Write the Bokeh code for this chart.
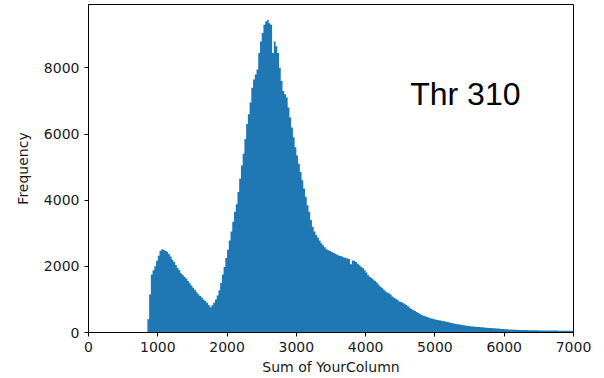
from bokeh.plotting import figure
from bokeh.models import Range1d, Label, FixedTicker
from bokeh.embed import file_html
from bokeh.resources import INLINE

# ---- data ----
bin_start = 850
bin_width = 25
counts = [
    400, 1150, 1750, 1880, 2000, 2170, 2320, 2470, 2520, 2500,
    2470, 2440, 2370, 2300, 2200, 2130, 2040, 1950, 1880, 1790,
    1740, 1680, 1630, 1560, 1490, 1420, 1350, 1290, 1220, 1160,
    1100, 1060, 1000, 950, 900, 830, 760, 820, 900, 1000,
    1120, 1280, 1500, 1750, 1980, 2250, 2500, 2780, 3050, 3350,
    3650, 3880, 4250, 4650, 5050, 5400, 5850, 6300, 6600, 6950,
    7400, 7650, 7800, 7950, 8450, 8800, 9050, 9300, 9400, 9450,
    9350, 9300, 8450, 8800, 8650, 8450, 8000, 7600, 7300, 7200,
    7100, 6800, 6500, 6200, 5900, 5600, 5350, 5100, 4850, 4600,
    4350, 4100, 3850, 3650, 3400, 3200, 3050, 2950, 2870, 2780,
    2700, 2640, 2580, 2520, 2490, 2460, 2430, 2410, 2380, 2360,
    2330, 2310, 2300, 2270, 2260, 2240, 2220, 2060, 2180, 2170,
    2130, 2080, 2030, 1990, 1950, 1880, 1810, 1730, 1680, 1650,
    1600, 1560, 1510, 1450, 1390, 1350, 1300, 1250, 1210, 1190,
    1150, 1090, 1050, 1020, 980, 940, 920, 900, 870, 830,
    790, 750, 710, 680, 650, 620, 590, 560, 530, 510,
    490, 470, 450, 430, 420, 400, 390, 375, 370, 360,
    350, 340, 325, 315, 305, 290, 280, 265, 255, 245,
    240, 230, 222, 215, 205, 198, 192, 185, 180, 175,
    170, 165, 160, 155, 150, 146, 142, 138, 135, 132,
    128, 122, 118, 112, 108, 104, 100, 96, 93, 90,
    88, 85, 82, 80, 78, 76, 75, 74, 73, 72,
    70, 69, 68, 67, 66, 65, 64, 63, 62, 62,
    61, 60, 60, 59, 58, 58, 57, 56, 56, 55,
    54, 53, 53, 52, 51, 50,
]
x_ticks = [0, 1000, 2000, 3000, 4000, 5000, 6000, 7000]
y_ticks = [0, 2000, 4000, 6000, 8000]
x_label = "Sum of YourColumn"
y_label = "Frequency"
annotation = "Thr 310"

# step outline of the histogram (bin edges and heights)
edges = [bin_start + i * bin_width for i in range(len(counts) + 1)]
heights = counts + [counts[-1]]

p = figure(
    frame_width=485, frame_height=328,
    min_border_left=88, min_border_right=31, min_border_top=4, min_border_bottom=46,
    x_range=Range1d(0, 7000), y_range=Range1d(0, 9915),
    output_backend="svg", toolbar_location=None,
    background_fill_color="white", border_fill_color="white",
)
p.varea_step(x=edges, y1=[0] * len(edges), y2=heights, step_mode="after",
             fill_color="#1f77b4")

p.xgrid.visible = False
p.ygrid.visible = False
p.outline_line_color = "black"
p.outline_line_width = 1

for ax in (p.xaxis[0], p.yaxis[0]):
    ax.axis_line_color = "black"
    ax.major_tick_line_color = "black"
    ax.major_tick_out = 4
    ax.major_tick_in = 0
    ax.minor_tick_line_color = None
    ax.major_label_text_font = "DejaVu Sans"
    ax.major_label_text_font_size = "14px"
    ax.major_label_text_color = "#1a1a1a"
    ax.axis_label_text_font = "DejaVu Sans"
    ax.axis_label_text_font_size = "14px"
    ax.axis_label_text_font_style = "normal"
    ax.axis_label_text_color = "#1a1a1a"

p.xaxis.ticker = FixedTicker(ticks=x_ticks)
p.yaxis.ticker = FixedTicker(ticks=y_ticks)
p.xaxis.axis_label = x_label
p.yaxis.axis_label = y_label
p.xaxis.major_label_standoff = 5
p.xaxis.axis_label_standoff = 4
p.yaxis.major_label_standoff = 5
p.yaxis.axis_label_standoff = 10

p.add_layout(Label(x=4643, y=7213, text=annotation,
                   text_font="Liberation Sans", text_font_size="32px",
                   text_color="black", text_align="left",
                   text_baseline="alphabetic"))

open("out.html", "w").write(file_html(p, INLINE))
